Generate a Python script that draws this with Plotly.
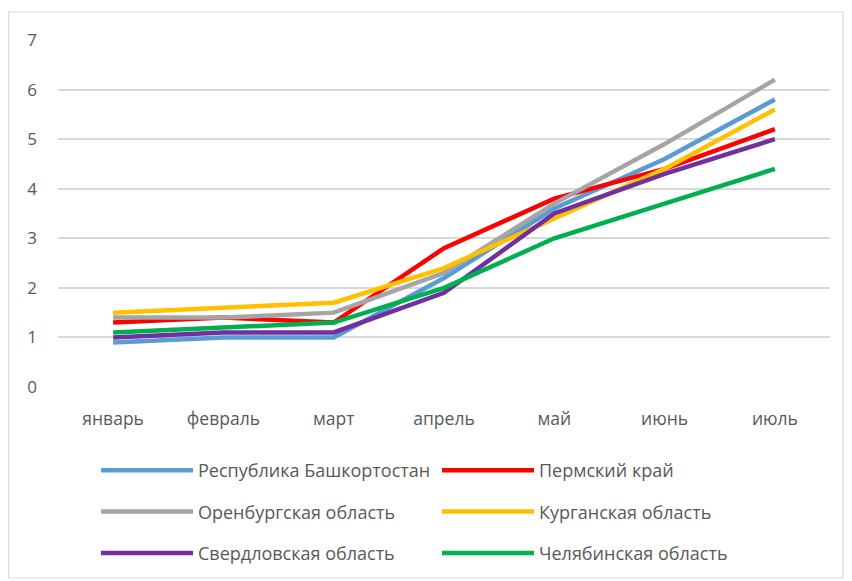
import plotly.graph_objects as go

months = ["январь", "февраль", "март", "апрель", "май", "июнь", "июль"]

bashkortostan = [0.9, 1.0, 1.0, 2.2, 3.6, 4.6, 5.8]
perm = [1.3, 1.4, 1.3, 2.8, 3.8, 4.4, 5.2]
orenburg = [1.4, 1.4, 1.5, 2.3, 3.7, 4.9, 6.2]
kurgan = [1.5, 1.6, 1.7, 2.4, 3.4, 4.4, 5.6]
sverdlovsk = [1.0, 1.1, 1.1, 1.9, 3.5, 4.3, 5.0]
chelyabinsk = [1.1, 1.2, 1.3, 2.0, 3.0, 3.7, 4.4]

series = [
    ("Республика Башкортостан", bashkortostan, "#5B9BD5", "legend"),
    ("Пермский край", perm, "#FF0000", "legend2"),
    ("Оренбургская область", orenburg, "#A5A5A5", "legend"),
    ("Курганская область", kurgan, "#FFC000", "legend2"),
    ("Свердловская область", sverdlovsk, "#7030A0", "legend"),
    ("Челябинская область", chelyabinsk, "#00B050", "legend2"),
]

# page body has an 8px margin; positions below are figure coords (screen - 8)
W, H = 852, 581
ML, MR, MT, MB = 50, 30, 32, 202
PW, PH = W - ML - MR, H - MT - MB

def px_x(x):
    return (x - ML) / PW

def px_y(y):
    return (H - MB - y) / PH

fig = go.Figure()
for name, vals, color, leg in series:
    fig.add_trace(go.Scatter(
        x=months, y=vals, mode="lines", name=name,
        line=dict(color=color, width=4.5),
        legend=leg, legendgroup=name,
    ))

FAM = "Open Sans, Noto Sans, sans-serif"
legend_common = dict(
    orientation="v", yanchor="top", xanchor="left",
    font=dict(family=FAM, size=18, color="#595959"),
    itemwidth=92, tracegroupgap=15, bgcolor="rgba(0,0,0,0)",
)

fig.update_layout(
    width=W, height=H,
    margin=dict(l=ML, r=MR, t=MT, b=MB),
    paper_bgcolor="white", plot_bgcolor="white",
    font=dict(family=FAM, size=16, color="#595959"),
    showlegend=True,
    legend=dict(x=px_x(88), y=px_y(444), **legend_common),
    legend2=dict(x=px_x(429), y=px_y(444), **legend_common),
    xaxis=dict(type="category", range=[-0.5, 6.5], showgrid=False,
               showline=False, zeroline=False, ticks="",
               tickfont=dict(size=17.5), ticklabelstandoff=19),
    yaxis=dict(range=[0, 7], dtick=1, showgrid=True, gridcolor="#D9D9D9",
               gridwidth=1.5, zeroline=False, showline=False, ticks="",
               tickfont=dict(size=17), ticklabelstandoff=20),
    shapes=[dict(type="rect", xref="paper", yref="paper",
                 x0=px_x(0.5), x1=px_x(835), y0=px_y(570), y1=px_y(4),
                 line=dict(color="#D9D9D9", width=1.2), layer="above")],
)

fig.write_html("out.html")
